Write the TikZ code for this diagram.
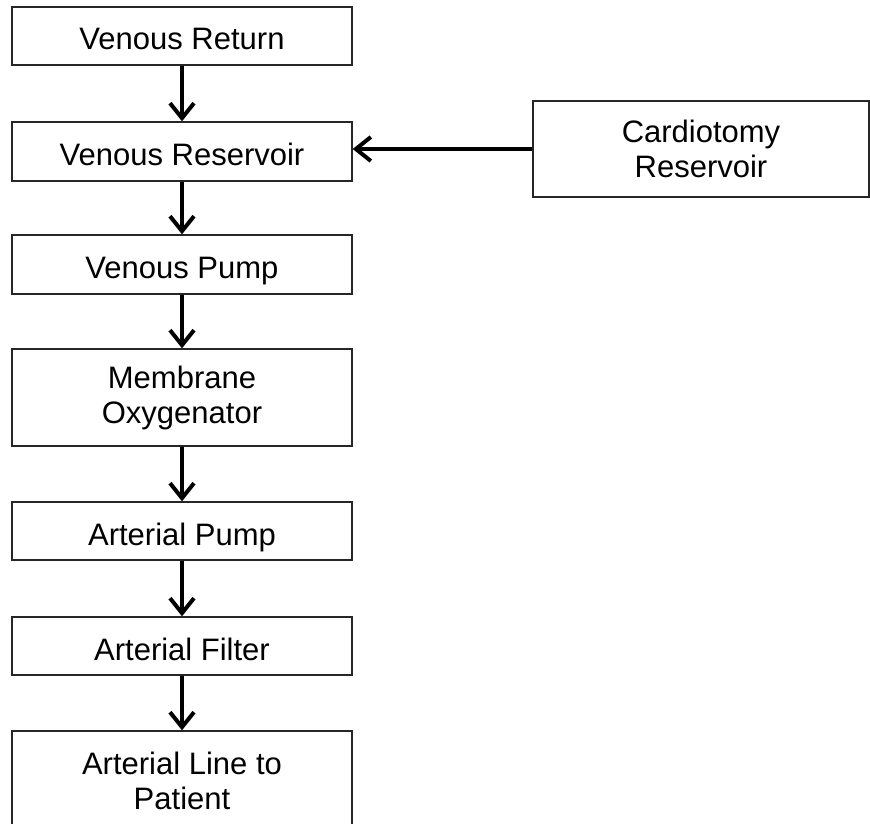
\documentclass[tikz,border=0pt]{standalone}
\usepackage{fontspec}
\setmainfont{Liberation Sans}
\usetikzlibrary{arrows.meta}
\begin{document}
\begin{tikzpicture}[x=1pt,y=1pt,
  flowbox/.style={draw=black!85, line width=1.3pt, rectangle, minimum width=340pt,
    inner sep=0pt, align=center, font=\fontsize{31}{35}\selectfont},
  oneline/.style={text height=28pt, text depth=0pt},
  flowarrow/.style={line width=4pt, -{Straight Barb[length=15pt,width=24pt,line width=4pt]}}]
\useasboundingbox (0,0) rectangle (870,-824);
\begin{scope}
\clip (0,0) rectangle (870,-824);
\node[flowbox, oneline, minimum height=58pt] (b1) at (182,-36) {Venous Return};
\node[flowbox, oneline, minimum height=59pt] (b2) at (182,-151.5) {Venous Reservoir};
\node[flowbox, oneline, minimum height=59pt] (b3) at (182,-264.5) {Venous Pump};
\node[flowbox, minimum height=97pt] (b4) at (182,-397.5) {Membrane\\Oxygenator};
\node[flowbox, oneline, minimum height=58pt] (b5) at (182,-531) {Arterial Pump};
\node[flowbox, oneline, minimum height=58pt] (b6) at (182,-646) {Arterial Filter};
\node[flowbox, minimum height=100pt] (b7) at (182,-781) {Arterial Line to\\Patient};
\node[flowbox, minimum width=336pt, minimum height=96pt] (c) at (701,-149) {Cardiotomy\\Reservoir};
\draw[flowarrow] (b1) -- (b2);
\draw[flowarrow] (b2) -- (b3);
\draw[flowarrow] (b3) -- (b4);
\draw[flowarrow] (b4) -- (b5);
\draw[flowarrow] (b5) -- (b6);
\draw[flowarrow] (b6) -- (b7);
\draw[flowarrow] (c.west) -- (c.west -| b2.east);
\end{scope}
\end{tikzpicture}
\end{document}
